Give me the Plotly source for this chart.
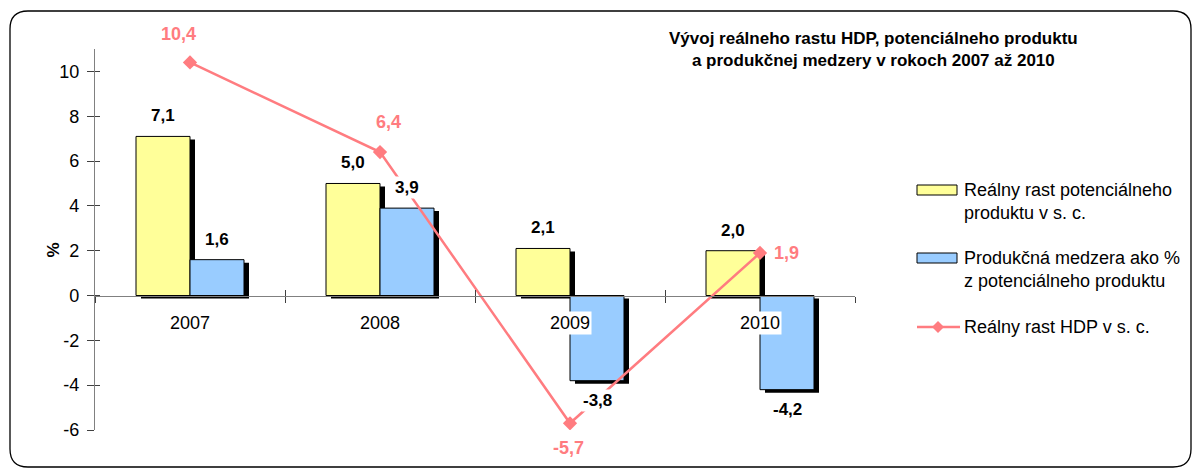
import plotly.graph_objects as go

# ---- data ----
years = ["2007", "2008", "2009", "2010"]
potential = [7.1, 5.0, 2.1, 2.0]          # Reálny rast potenciálneho produktu v s. c.
gap = [1.6, 3.9, -3.8, -4.2]              # Produkčná medzera ako % z potenciálneho produktu
gdp = [10.4, 6.4, -5.7, 1.9]              # Reálny rast HDP v s. c.
ytick_vals = [-6, -4, -2, 0, 2, 4, 6, 8, 10]
ytick_text = ["-6", "-4", "-2", "0", "2", "4", "6", "8", "10"]

# ---- style ----
W, H = 1192, 469
L, R, T, B = 95, 855, 49, 430
YMIN, YMAX = -6, 11
FONT = "Liberation Sans, Arial, sans-serif"
YELLOW = "#FFFF99"
BLUE = "#99CCFF"
PINK = "#FF7C80"
AXIS = "#808080"

def px(x):
    return (x - L) / (R - L)

def py(y):
    return (B - y) / (B - T)

xs = list(range(len(years)))
unit = (R - L) / len(years)               # px per category
bw = 54 / unit                            # bar width in category units
sdx = 5 / unit                            # shadow x offset
sdy = 3 * (YMAX - YMIN) / (B - T)         # shadow y offset

fig = go.Figure()

# shadows
for vals, off in ((potential, -bw), (gap, 0.0)):
    fig.add_trace(go.Bar(
        x=xs, y=vals, base=[-sdy] * len(vals), width=bw, offset=off + sdx,
        marker=dict(color="black", line=dict(width=0)),
        showlegend=False, hoverinfo="skip"))

fig.add_trace(go.Bar(
    x=xs, y=potential, width=bw, offset=-bw,
    marker=dict(color=YELLOW, line=dict(color="black", width=1)),
    name="Reálny rast potenciálneho produktu v s. c.", showlegend=False))
fig.add_trace(go.Bar(
    x=xs, y=gap, width=bw, offset=0,
    marker=dict(color=BLUE, line=dict(color="black", width=1)),
    name="Produkčná medzera ako % z potenciálneho produktu", showlegend=False))
fig.add_trace(go.Scatter(
    x=xs, y=gdp, mode="lines+markers",
    line=dict(color=PINK, width=2.5),
    marker=dict(symbol="diamond", size=11, color=PINK),
    name="Reálny rast HDP v s. c.", showlegend=False))

def fmt(v):
    return f"{v:.1f}".replace(".", ",")

ann = []
lab_font = dict(family=FONT, size=17, color="black")
for i, v in enumerate(potential):
    ann.append(dict(x=i - bw / 2, y=v, xref="x", yref="y", text=f"<b>{fmt(v)}</b>",
                    showarrow=False, yanchor="bottom" if v >= 0 else "top",
                    yshift=9 if v >= 0 else -8, font=lab_font, bgcolor="white"))
for i, v in enumerate(gap):
    ann.append(dict(x=i + bw / 2, y=v, xref="x", yref="y", text=f"<b>{fmt(v)}</b>",
                    showarrow=False, yanchor="bottom" if v >= 0 else "top",
                    yshift=9 if v >= 0 else -8, font=lab_font, bgcolor="white"))
pink_font = dict(family=FONT, size=18, color=PINK)
gdp_pos = [dict(yanchor="bottom", yshift=16, xshift=-12),
           dict(yanchor="bottom", yshift=18, xshift=8),
           dict(yanchor="top", yshift=-13, xshift=-2),
           dict(yanchor="middle", xanchor="left", xshift=12)]
for i, v in enumerate(gdp):
    ann.append(dict(x=i, y=v, xref="x", yref="y", text=f"<b>{fmt(v)}</b>",
                    showarrow=False, font=pink_font, **gdp_pos[i]))
# category labels
for i, c in enumerate(years):
    ann.append(dict(x=i, y=0, xref="x", yref="y", text=c, showarrow=False,
                    yanchor="top", yshift=-15, font=dict(family=FONT, size=18, color="black"),
                    bgcolor="white", borderpad=1))
# y title
ann.append(dict(x=px(42), y=py(250), xref="paper", yref="paper", text="<b>%</b>",
                textangle=-90, showarrow=False, font=dict(family=FONT, size=17, color="black")))
# chart title
ann.append(dict(x=px(873), y=py(50), xref="paper", yref="paper",
                text="<b>Vývoj reálneho rastu HDP, potenciálneho produktu<br>a produkčnej medzery v rokoch 2007 až 2010</b>",
                showarrow=False, xanchor="center", yanchor="middle",
                font=dict(family=FONT, size=17, color="black")))

# manual legend
leg_texts = ["Reálny rast potenciálneho<br>produktu v s. c.",
             "Produkčná medzera ako %<br>z potenciálneho produktu",
             "Reálny rast HDP v s. c."]
leg_y = [201, 269, 327]
shapes = []
for col, yc in ((YELLOW, 190), (BLUE, 258)):
    shapes.append(dict(type="rect", xref="paper", yref="paper",
                       x0=px(917), x1=px(957), y0=py(yc - 5), y1=py(yc + 5),
                       fillcolor=col, line=dict(color="black", width=1)))
shapes.append(dict(type="line", xref="paper", yref="paper",
                   x0=px(917), x1=px(960), y0=py(327), y1=py(327),
                   line=dict(color=PINK, width=2.5)))
cx, cy, d = 938, 327, 6
shapes.append(dict(type="path", xref="paper", yref="paper",
                   path=f"M{px(cx)},{py(cy-d)} L{px(cx+d)},{py(cy)} L{px(cx)},{py(cy+d)} L{px(cx-d)},{py(cy)} Z",
                   fillcolor=PINK, line=dict(color=PINK, width=0)))
for t, yc in zip(leg_texts, leg_y):
    ann.append(dict(x=px(962), y=py(yc), xref="paper", yref="paper", text=t,
                    showarrow=False, xanchor="left", yanchor="middle", align="left",
                    font=dict(family=FONT, size=18, color="black")))

# rounded frame
fx0, fy0, fx1, fy1, r = 10, 11, 1191, 467, 18
frame = (f"M{px(fx0 + r)},{py(fy0)} L{px(fx1 - r)},{py(fy0)} "
         f"Q{px(fx1)},{py(fy0)} {px(fx1)},{py(fy0 + r)} "
         f"L{px(fx1)},{py(fy1 - r)} Q{px(fx1)},{py(fy1)} {px(fx1 - r)},{py(fy1)} "
         f"L{px(fx0 + r)},{py(fy1)} Q{px(fx0)},{py(fy1)} {px(fx0)},{py(fy1 - r)} "
         f"L{px(fx0)},{py(fy0 + r)} Q{px(fx0)},{py(fy0)} {px(fx0 + r)},{py(fy0)} Z")
shapes.append(dict(type="path", xref="paper", yref="paper", path=frame,
                   line=dict(color="black", width=1.3), layer="below"))

zero_pos = (0 - YMIN) / (YMAX - YMIN)
bounds = [i - 0.5 for i in range(len(years) + 1)]

fig.update_layout(
    width=W, height=H, autosize=False,
    margin=dict(l=L, r=W - R, t=T, b=H - B, pad=0),
    paper_bgcolor="white", plot_bgcolor="rgba(0,0,0,0)",
    barmode="overlay",
    font=dict(family=FONT, size=17, color="black"),
    xaxis=dict(range=[-0.5, 3.5], anchor="free", position=zero_pos,
               showline=True, linecolor=AXIS, linewidth=1.3,
               ticks="outside", ticklen=6, tickcolor="#404040", tickwidth=1,
               tickvals=bounds, showticklabels=False, showgrid=False, zeroline=False,
               fixedrange=True),
    xaxis2=dict(range=[-0.5, 3.5], overlaying="x", anchor="free", position=zero_pos,
                showline=False, ticks="inside", ticklen=6, tickcolor="#404040", tickwidth=1,
                tickvals=bounds, showticklabels=False, showgrid=False, zeroline=False),
    yaxis=dict(range=[YMIN, YMAX], showline=True, linecolor=AXIS, linewidth=1.3,
               ticks="outside", ticklen=7, tickcolor="#404040", tickwidth=1,
               tickvals=ytick_vals, ticktext=ytick_text, ticklabelstandoff=4,
               tickfont=dict(family=FONT, size=18, color="black"),
               showgrid=False, zeroline=False),
    yaxis2=dict(range=[YMIN, YMAX], overlaying="y", side="left", anchor="x",
                showline=False, ticks="inside", ticklen=5, tickcolor="#404040", tickwidth=1,
                tickvals=ytick_vals, showticklabels=False, showgrid=False, zeroline=False),
    annotations=ann, shapes=shapes,
)
# dummy invisible trace to activate secondary axes
fig.add_trace(go.Scatter(x=[None], y=[None], xaxis="x2", yaxis="y2",
                         showlegend=False, hoverinfo="skip"))

fig.write_html("out.html", config={"displayModeBar": False},
               post_script="document.body.style.margin='0px';")
